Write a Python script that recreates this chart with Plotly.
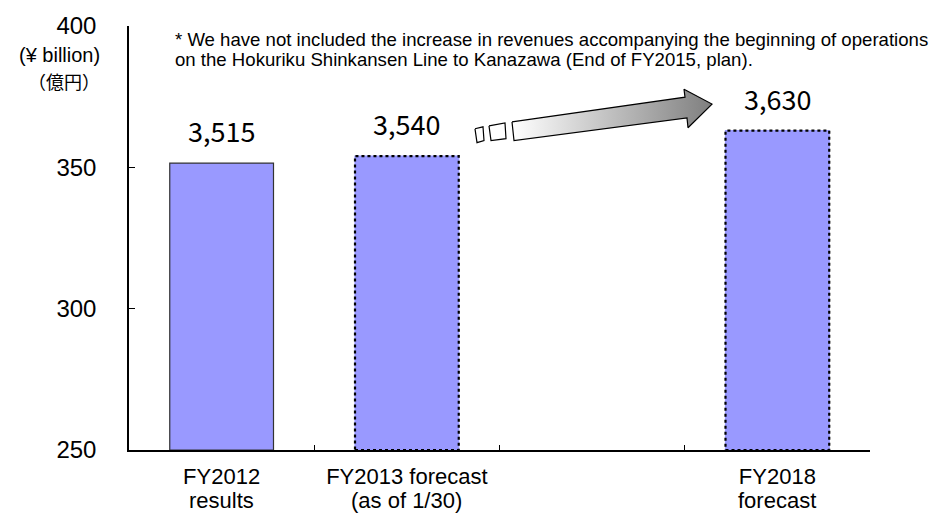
import plotly.graph_objects as go

# Operating revenues (hundred-million yen) by period
categories = ["FY2012", "FY2013 forecast", " ", "FY2018"]
sublabels = ["results", "(as of 1/30)", "", "forecast"]
revenues = [3515, 3540, None, 3630]
is_forecast = [False, True, False, True]
y_ticks = [250, 300, 350, 400]

footnote_lines = [
    "* We have not included the increase in revenues accompanying the beginning of operations",
    "on the Hokuriku Shinkansen Line to Kanazawa (End of FY2015, plan).",
]

BAR_COLOR = "#9999FF"
BAR_WIDTH = 0.56
FONT = "Liberation Sans, Arial, sans-serif"
JP_FONT = "Noto Sans CJK JP, sans-serif"

W, H = 939, 516
L, R, T, B = 129, 69, 21, 66


def px_x(p):
    """Pixel column -> paper x."""
    return (p - L) / (W - L - R)


def px_y(p):
    """Pixel row -> paper y."""
    return (H - B - p) / (H - T - B)


billions = [None if v is None else v / 10 for v in revenues]

fig = go.Figure()
fig.add_trace(go.Bar(
    x=categories, y=[None if b is None else b - 250 for b in billions], base=250,
    width=BAR_WIDTH, marker=dict(color=BAR_COLOR,
                                 line=dict(color=["#333333" if not f else BAR_COLOR for f in is_forecast],
                                           width=1.2)),
    hoverinfo="skip", showlegend=False,
))

# dotted outlines for forecast bars, value labels above each bar
for i, (b, v, f) in enumerate(zip(billions, revenues, is_forecast)):
    if b is None:
        continue
    if f:
        fig.add_shape(type="rect", xref="x", yref="y",
                      x0=i - BAR_WIDTH / 2, x1=i + BAR_WIDTH / 2, y0=250, y1=b,
                      line=dict(color="black", width=2.2, dash="dot"), fillcolor="rgba(0,0,0,0)")
    fig.add_annotation(x=categories[i], y=b, text=f"{v:,}", showarrow=False,
                       yanchor="bottom", yshift=11,
                       font=dict(family=JP_FONT, size=27, color="black"))

# second line of the category labels
for c, s in zip(categories, sublabels):
    if s:
        fig.add_annotation(x=c, y=0, xref="x", yref="paper", text=s, showarrow=False,
                           yanchor="top", yshift=-36,
                           font=dict(family=FONT, size=22, color="black"))

# growth arrow drawn on a pixel-space overlay
arrow_x = [512, 685, 684, 712, 688, 687, 514, 512]
arrow_y = [118, 93, 85, 100, 124, 114, 137, 118]
fig.add_trace(go.Scatter(
    x=arrow_x, y=arrow_y, xaxis="x2", yaxis="y2", mode="lines", fill="toself",
    fillgradient=dict(type="horizontal", colorscale=[[0, "#FFFFFF"], [1, "#7F7F7F"]]),
    line=dict(color="black", width=1.2), hoverinfo="skip", showlegend=False,
))
for rx, ry in (([475, 483, 484, 477, 475], [125, 123, 137, 139, 125]),
               ([489, 505, 506, 491, 489], [122, 119, 135, 137, 122])):
    fig.add_trace(go.Scatter(x=rx, y=ry, xaxis="x2", yaxis="y2", mode="lines",
                             fill="toself", fillcolor="white",
                             line=dict(color="black", width=1.2),
                             hoverinfo="skip", showlegend=False))

fig.add_annotation(x=px_x(102), y=px_y(50), xref="paper", yref="paper", text="(¥ billion)",
                   showarrow=False, xanchor="right", yanchor="middle",
                   font=dict(family=FONT, size=20, color="black"))
fig.add_annotation(x=px_x(102), y=px_y(77), xref="paper", yref="paper", text="（億円）",
                   showarrow=False, xanchor="right", yanchor="middle",
                   font=dict(family=JP_FONT, size=18, color="black"))
for k, line in enumerate(footnote_lines):
    fig.add_annotation(x=px_x(173), y=px_y(35 + 20 * k), xref="paper", yref="paper",
                       text=line, showarrow=False,
                       xanchor="left", yanchor="middle", align="left",
                       font=dict(family=FONT, size=18.6, color="black"))

fig.update_layout(
    width=W, height=H, margin=dict(l=L, r=R, t=T, b=B),
    paper_bgcolor="white", plot_bgcolor="white",
    bargap=0.44,
    xaxis=dict(type="category", categoryorder="array", categoryarray=categories,
               tickson="boundaries", ticks="inside", ticklen=5, tickcolor="black",
               showline=True, linecolor="black", linewidth=1.5, showgrid=False,
               ticklabelstandoff=6,
               tickfont=dict(family=FONT, size=22, color="black"), range=[-0.5, 3.5]),
    yaxis=dict(range=[250, 400], tickvals=y_ticks, ticks="inside", ticklen=6,
               tickcolor="black", showline=True, linecolor="black", linewidth=1.5,
               showgrid=False, zeroline=False, ticklabelstandoff=26,
               tickfont=dict(family=FONT, size=24, color="black")),
    xaxis2=dict(overlaying="x", range=[L, W - R], visible=False),
    yaxis2=dict(overlaying="y", range=[H - B, T], visible=False),
)

fig.write_html("out.html")
